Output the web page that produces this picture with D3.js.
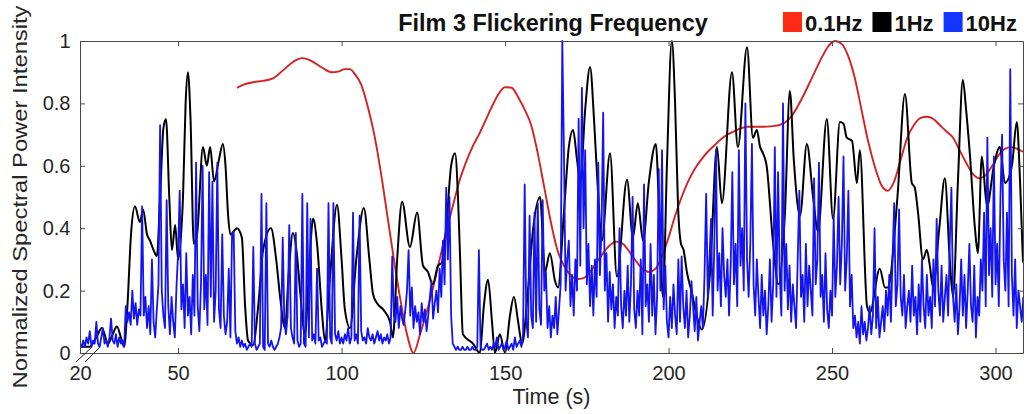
<!DOCTYPE html>
<html>
<head>
<meta charset="utf-8">
<script src="https://cdn.jsdelivr.net/npm/d3@7"></script>
<style>
  body { margin: 0; background: #fff; }
  svg { display: block; }
  text { font-family: "Liberation Sans", Arial, Helvetica, sans-serif; }
</style>
</head>
<body>
<svg id="chart" width="1027" height="414"></svg>
<script>
// ---- data -------------------------------------------------------------
const xTicks = [20, 50, 100, 150, 200, 250, 300];
const yTicks = [0, 0.2, 0.4, 0.6, 0.8, 1];
const legendLabels = ["0.1Hz", "1Hz", "10Hz"];

// 0.1 Hz band: [time (s), normalized power]
const red = [[68,0.85],[70,0.86],[73,0.868],[76,0.872],[79,0.88],[82,0.905],[85,0.932],[88,0.945],[91,0.935],[94,0.915],[97,0.9],[99,0.902],[101,0.91],[102.5,0.91],[104,0.895],[106,0.86],[108,0.79],[110,0.70],[112,0.58],[114,0.44],[116,0.30],[118,0.17],[120,0.06],[122,0.0],[124,0.06],[126,0.13],[128,0.21],[130,0.30],[132,0.39],[134,0.47],[136,0.55],[138,0.61],[140,0.66],[142,0.70],[144,0.745],[146,0.79],[148,0.83],[150,0.852],[152,0.85],[154,0.82],[156,0.78],[158,0.73],[160,0.64],[162,0.53],[164,0.42],[166,0.33],[168,0.28],[170,0.25],[172,0.237],[174,0.24],[176,0.26],[178,0.29],[180,0.32],[182,0.345],[184,0.357],[186,0.35],[188,0.325],[190,0.295],[192,0.27],[194,0.26],[196,0.27],[198,0.31],[200,0.37],[202,0.44],[204,0.50],[206,0.55],[208,0.59],[210,0.62],[212,0.645],[214,0.665],[216,0.685],[218,0.70],[220,0.71],[222,0.72],[224,0.725],[228,0.725],[232,0.727],[235,0.735],[238,0.765],[241,0.82],[244,0.885],[247,0.95],[249,0.985],[251,1.0],[253,0.99],[255,0.95],[257,0.88],[259,0.78],[261,0.68],[263,0.6],[265,0.54],[267,0.52],[269,0.55],[271,0.62],[273,0.69],[275,0.73],[277,0.753],[279,0.757],[281,0.75],[283,0.73],[285,0.71],[287,0.69],[289,0.65],[291,0.61],[293,0.575],[295,0.56],[297,0.57],[299,0.60],[301,0.635],[303,0.655],[305,0.66],[307,0.652],[308.4,0.645]];

// 1 Hz band: [time (s), normalized power]
const black = [[20,0.02],[23,0.02],[25,0.05],[26.7,0.08],[28.6,0.03],[30,0.06],[31.3,0.085],[32.5,0.05],[33.5,0.02],[34.5,0.15],[35.6,0.38],[36.8,0.47],[38.3,0.42],[39.3,0.46],[40.5,0.38],[41.4,0.36],[42.5,0.33],[43.5,0.31],[44.5,0.5],[45.5,0.72],[46.3,0.75],[47.3,0.5],[48.1,0.33],[49.1,0.41],[50,0.30],[51.5,0.5],[52.3,0.8],[53,0.9],[53.8,0.75],[54.8,0.35],[55.8,0.38],[57.6,0.66],[58.8,0.6],[59.8,0.66],[61,0.55],[62.5,0.62],[63.7,0.67],[64.5,0.6],[65.3,0.44],[66,0.38],[68,0.40],[69.5,0.37],[70.5,0.15],[71.4,0.04],[72.9,0.025],[74.5,0.15],[76,0.33],[78.4,0.40],[80,0.3],[81.2,0.18],[82.7,0.08],[83.8,0.25],[85.1,0.385],[86.3,0.32],[87.3,0.2],[88.8,0.06],[90.2,0.3],[91.3,0.43],[92.5,0.35],[94,0.13],[94.9,0.04],[96.5,0.25],[98.6,0.475],[100,0.3],[101,0.14],[102.6,0.08],[104.5,0.3],[106.8,0.465],[108.5,0.3],[109.6,0.19],[110.8,0.16],[112.7,0.14],[114.8,0.10],[115.7,0.05],[117,0.3],[118.5,0.485],[120.9,0.34],[123.1,0.45],[124.9,0.28],[126.4,0.26],[127.9,0.22],[129.5,0.28],[130.7,0.29],[132,0.4],[133.5,0.6],[134.7,0.64],[135.6,0.5],[136.2,0.32],[137.1,0.06],[140.2,0.03],[142.3,0.0],[143.5,0.15],[144.8,0.235],[146,0.1],[146.9,0.0],[148.4,0.06],[150,0.0],[151.5,0.12],[152.7,0.18],[154,0.1],[155.2,0.03],[157,0.2],[158.5,0.39],[160.7,0.50],[162.2,0.26],[163.7,0.32],[165.3,0.23],[166.2,0.21],[168,0.45],[169.5,0.66],[170.8,0.715],[172,0.62],[173,0.55],[174.5,0.78],[176,0.917],[177.2,0.75],[178.4,0.52],[179.6,0.36],[182.1,0.64],[184.2,0.245],[187.3,0.555],[189.1,0.37],[190.6,0.48],[192.2,0.36],[194,0.55],[196.1,0.67],[197.3,0.4],[198.3,0.18],[199.5,0.6],[201,1.0],[202,0.8],[202.9,0.47],[203.8,0.35],[204.6,0.33],[205.6,0.26],[207.2,0.19],[208.7,0.115],[210.2,0.075],[212.7,0.26],[214.8,0.66],[216.3,0.48],[219.4,0.90],[221.2,0.66],[224,0.98],[225.8,0.69],[227,0.715],[228,0.66],[228.9,0.64],[230,0.6],[231.9,0.36],[233.6,0.22],[235.6,0.45],[237.1,0.84],[238.3,0.62],[240.2,0.44],[242.3,0.67],[244.2,0.50],[245.7,0.39],[248.4,0.75],[250.3,0.43],[252.4,0.74],[253.5,0.735],[254.5,0.69],[256.1,0.68],[257.6,0.545],[258.5,0.65],[260.7,0.15],[261.6,0.13],[264.6,0.27],[266.2,0.21],[267.1,0.21],[270,0.5],[272.3,0.83],[274.4,0.545],[275.3,0.53],[276.3,0.45],[277.8,0.30],[279,0.33],[279.9,0.28],[280.9,0.21],[282.8,0.4],[284.5,0.56],[286,0.3],[287,0.18],[288.5,0.55],[290,0.875],[291,0.78],[292.2,0.63],[293.7,0.40],[294.6,0.32],[295.8,0.63],[297.4,0.47],[299.5,0.6],[301.3,0.66],[302.9,0.545],[305,0.6],[306.5,0.74],[307.5,0.55],[308.4,0.29]];

// 10 Hz band: one value every 0.5 s starting at 20 s
const blueStart = 20;
const blueStep = 0.5;
const blueValues = [
  0.03,0.02,0.04,0.02,0.05,0.03,0.07,0.02,0.04,0.03,
  0.10,0.03,0.02,0.05,0.08,0.03,0.04,0.02,0.05,0.11,
  0.04,0.03,0.06,0.02,0.05,0.03,0.04,0.02,0.15,0.10,
  0.13,0.09,0.20,0.11,0.16,0.09,0.14,0.12,0.47,0.12,
  0.18,0.08,0.15,0.06,0.30,0.10,0.05,0.14,0.22,0.73,
  0.20,0.12,0.08,0.49,0.15,0.06,0.18,0.10,0.05,0.21,
  0.32,0.52,0.14,0.22,0.08,0.32,0.12,0.18,0.06,0.25,
  0.12,0.61,0.15,0.07,0.22,0.60,0.14,0.25,0.09,0.58,
  0.18,0.55,0.10,0.20,0.61,0.14,0.08,0.38,0.12,0.06,
  0.10,0.27,0.05,0.38,0.39,0.07,0.03,0.05,0.02,0.04,
  0.02,0.03,0.01,0.02,0.03,0.02,0.34,0.03,0.01,0.02,
  0.03,0.51,0.02,0.01,0.48,0.03,0.02,0.04,0.02,0.01,
  0.02,0.03,0.05,0.08,0.37,0.10,0.06,0.12,0.41,0.08,
  0.05,0.03,0.385,0.04,0.02,0.03,0.51,0.03,0.02,0.48,
  0.05,0.43,0.04,0.06,0.03,0.27,0.04,0.05,0.02,0.03,
  0.04,0.03,0.48,0.05,0.03,0.48,0.06,0.04,0.07,0.03,
  0.05,0.03,0.06,0.04,0.08,0.03,0.05,0.45,0.04,0.06,
  0.03,0.44,0.07,0.04,0.05,0.03,0.08,0.05,0.04,0.06,
  0.03,0.05,0.07,0.04,0.06,0.03,0.05,0.04,0.06,0.03,
  0.05,0.31,0.12,0.10,0.18,0.08,0.15,0.11,0.09,0.14,
  0.20,0.33,0.12,0.21,0.08,0.15,0.10,0.13,0.06,0.16,
  0.10,0.14,0.07,0.12,0.18,0.23,0.11,0.16,0.20,0.13,
  0.27,0.18,0.36,0.22,0.53,0.30,0.50,0.12,0.03,0.02,
  0.01,0.02,0.01,0.01,0.02,0.01,0.01,0.02,0.01,0.01,
  0.02,0.01,0.01,0.02,0.33,0.02,0.01,0.01,0.02,0.03,
  0.01,0.02,0.01,0.03,0.02,0.05,0.01,0.02,0.03,0.01,
  0.02,0.04,0.01,0.02,0.03,0.01,0.05,0.02,0.03,0.04,
  0.02,0.06,0.54,0.10,0.05,0.44,0.12,0.08,0.45,0.10,
  0.48,0.14,0.09,0.49,0.20,0.26,0.08,0.15,0.05,0.12,
  0.08,0.18,0.06,0.14,0.22,1.0,0.65,0.20,0.30,0.36,
  0.15,0.25,0.12,0.30,0.20,0.75,0.28,0.85,0.40,0.65,
  0.22,0.35,0.15,0.28,0.12,0.30,0.18,0.61,0.25,0.40,
  0.77,0.20,0.32,0.10,0.26,0.14,0.22,0.08,0.18,0.12,
  0.40,0.15,0.08,0.20,0.12,0.28,0.10,0.22,0.50,0.14,
  0.08,0.20,0.12,0.30,0.06,0.54,0.15,0.22,0.10,0.35,
  0.12,0.25,0.06,0.18,0.59,0.20,0.65,0.14,0.28,0.10,
  0.05,0.18,0.08,0.22,0.12,0.06,0.30,0.10,0.31,0.15,
  0.08,0.20,0.05,0.12,0.23,0.15,0.07,0.18,0.04,0.10,
  0.15,0.08,0.25,0.51,0.18,0.30,0.43,0.12,0.35,0.65,
  0.20,0.32,0.15,0.40,0.25,0.18,0.30,0.12,0.28,0.58,
  0.22,0.35,0.15,0.65,0.28,0.40,0.20,0.80,0.30,0.18,
  0.35,0.67,0.22,0.12,0.30,0.18,0.08,0.25,0.12,0.20,
  0.06,0.15,0.30,0.10,0.22,0.66,0.18,0.58,0.25,0.12,
  0.80,0.20,0.35,0.14,0.28,0.10,0.22,0.15,0.08,0.30,
  0.52,0.18,0.25,0.10,0.35,0.15,0.28,0.20,0.12,0.56,
  0.22,0.30,0.61,0.18,0.25,0.10,0.32,0.14,0.08,0.20,
  0.12,0.44,0.18,0.28,0.50,0.22,0.35,0.63,0.20,0.30,
  0.52,0.15,0.25,0.08,0.12,0.05,0.10,0.03,0.15,0.06,
  0.10,0.04,0.08,0.15,0.06,0.12,0.40,0.08,0.18,0.05,
  0.10,0.15,0.07,0.20,0.12,0.25,0.10,0.30,0.48,0.15,
  0.22,0.46,0.18,0.12,0.25,0.08,0.15,0.20,0.10,0.28,
  0.12,0.18,0.06,0.22,0.10,0.30,0.15,0.08,0.25,0.12,
  0.18,0.08,0.30,0.15,0.43,0.20,0.12,0.28,0.10,0.18,
  0.25,0.12,0.35,0.53,0.18,0.10,0.22,0.06,0.15,0.30,
  0.12,0.25,0.08,0.20,0.35,0.15,0.10,0.28,0.05,0.18,
  0.12,0.30,0.20,0.45,0.15,0.69,0.25,0.40,0.18,0.63,
  0.22,0.35,0.15,0.50,0.70,0.30,0.20,0.45,0.15,0.91,
  0.25,0.12,0.30,0.08,0.20,0.15,0.10,0.18
];

const seriesColors = { red: "#d42222", black: "#000000", blue: "#1414f2" };
const legendColors = ["#ff2a14", "#000000", "#1434ff"];

// ---- layout -----------------------------------------------------------
const svg = d3.select("#chart");
const x = d3.scaleLinear().domain([20, 308.4]).range([80, 1023]);
const y = d3.scaleLinear().domain([0, 1]).range([353, 41]);
const axisColor = "#4a4a4a";
const labelColor = "#262626";

svg.append("defs").append("clipPath").attr("id", "plot-clip")
  .append("rect")
  .attr("x", x.range()[0]).attr("y", y.range()[1] - 2)
  .attr("width", x.range()[1] - x.range()[0]).attr("height", y.range()[0] - y.range()[1] + 4);

// ---- lines ------------------------------------------------------------
const smooth = d3.line().x(d => x(d[0])).y(d => y(d[1])).curve(d3.curveMonotoneX);
const plot = svg.append("g").attr("clip-path", "url(#plot-clip)");

plot.append("path").datum(red)
  .attr("d", smooth).attr("fill", "none")
  .attr("stroke", seriesColors.red).attr("stroke-width", 1.9);

plot.append("path").datum(black)
  .attr("d", smooth).attr("fill", "none")
  .attr("stroke", seriesColors.black).attr("stroke-width", 2).attr("stroke-linejoin", "round");

const blueLine = d3.line()
  .x((d, i) => x(blueStart + i * blueStep))
  .y(d => y(d));
plot.append("path").datum(blueValues)
  .attr("d", blueLine).attr("fill", "none")
  .attr("stroke", seriesColors.blue).attr("stroke-width", 1.8).attr("stroke-linejoin", "round");

// ---- axes (boxed, ticks pointing inward) ---------------------------
function styleAxis(g) {
  g.select(".domain").attr("stroke", axisColor).attr("stroke-width", 1);
  g.selectAll(".tick line").attr("stroke", axisColor).attr("stroke-width", 1);
  g.selectAll(".tick text").attr("fill", labelColor).attr("font-size", 20);
}

svg.append("g").attr("transform", `translate(0,${y(0)})`)
  .call(d3.axisBottom(x).tickValues(xTicks).tickSizeInner(-5).tickSizeOuter(0)
    .tickPadding(13).tickFormat(d3.format("d")))
  .call(styleAxis);

svg.append("g").attr("transform", `translate(0,${y(1)})`)
  .call(d3.axisTop(x).tickValues(xTicks).tickSizeInner(-5).tickSizeOuter(0).tickFormat(""))
  .call(styleAxis);

svg.append("g").attr("transform", `translate(${x(20)},0)`)
  .call(d3.axisLeft(y).tickValues(yTicks).tickSizeInner(-5).tickSizeOuter(0)
    .tickPadding(9.5).tickFormat(d => (d === 0 || d === 1) ? String(d) : d.toFixed(1)))
  .call(styleAxis);

svg.append("g").attr("transform", `translate(${x.range()[1]},0)`)
  .call(d3.axisRight(y).tickValues(yTicks).tickSizeInner(-5).tickSizeOuter(0).tickFormat(""))
  .call(styleAxis);

// axis-break marks at the origin of the time axis
const ox = x(20), oy = y(0);
[[-4, 9, 12, -6], [5, 9, 20, -6]].forEach(([x1, y1, x2, y2]) => {
  svg.append("line")
    .attr("x1", ox + x1).attr("y1", oy + y1)
    .attr("x2", ox + x2).attr("y2", oy + y2)
    .attr("stroke", "#222").attr("stroke-width", 1);
});

// ---- texts ------------------------------------------------------------
svg.append("text")
  .attr("x", (x.range()[0] + x.range()[1]) / 2).attr("y", 404)
  .attr("text-anchor", "middle").attr("font-size", 21.5).attr("fill", labelColor)
  .text("Time (s)");

svg.append("text")
  .attr("transform", `translate(27,${(y.range()[0] + y.range()[1]) / 2}) rotate(-90)`)
  .attr("text-anchor", "middle").attr("font-size", 21).attr("fill", labelColor)
  .attr("textLength", 383).attr("lengthAdjust", "spacingAndGlyphs")
  .text("Normalized Spectral Power Intensity");

svg.append("text")
  .attr("x", 553).attr("y", 31)
  .attr("text-anchor", "middle").attr("font-size", 23.4).attr("font-weight", "bold")
  .attr("fill", "#111")
  .text("Film 3 Flickering Frequency");

// legend: colour swatch followed by its label, laid out left to right
const legend = svg.append("g");
let lx = 783;
legendLabels.forEach((label, i) => {
  legend.append("rect").attr("x", lx).attr("y", 12).attr("width", 19).attr("height", 20)
    .attr("fill", legendColors[i]);
  const t = legend.append("text").attr("x", lx + 22).attr("y", 30.5)
    .attr("font-size", 22).attr("font-weight", "bold").attr("fill", "#111").text(label);
  lx += 22 + t.node().getComputedTextLength() + 10;
});
</script>
</body>
</html>
